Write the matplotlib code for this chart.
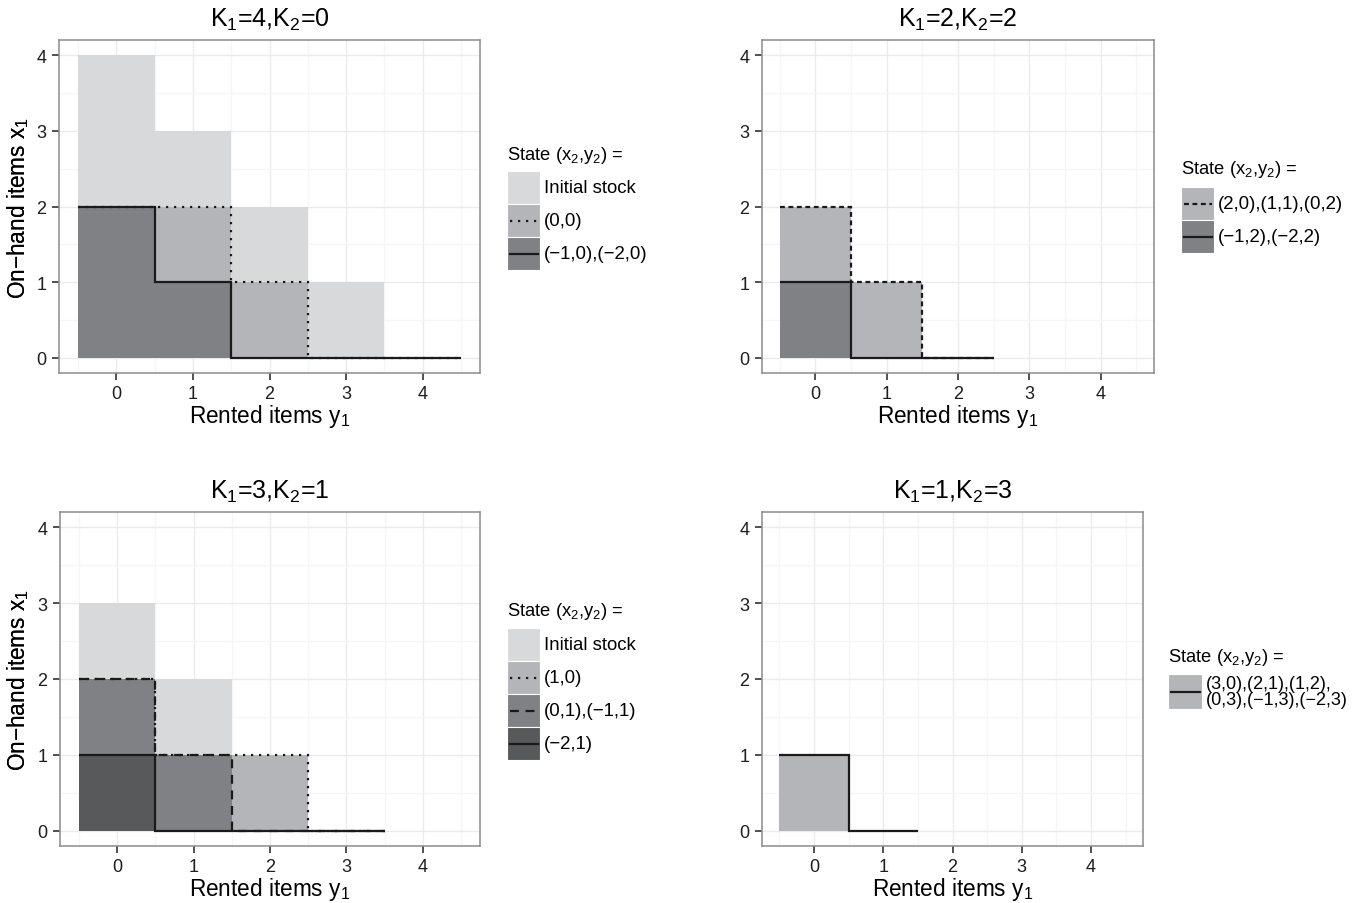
import numpy as np
import matplotlib
matplotlib.use('Agg')
import matplotlib.pyplot as plt
from matplotlib.patches import Rectangle
from matplotlib.lines import Line2D

plt.rcParams['font.family'] = ['Liberation Sans', 'DejaVu Sans']
plt.rcParams['mathtext.fontset'] = 'custom'
plt.rcParams['mathtext.rm'] = 'Liberation Sans'
plt.rcParams['mathtext.it'] = 'Liberation Sans:italic'

# greys used for the states
c_init = '#d8d9db'
c_mid = '#b4b5b8'
c_dark = '#808185'
c_darkest = '#58595b'

# rented items y1 on the x axis
y1 = np.arange(5)

# panel titles
titles = [r'$\mathregular{K_1}$=4,$\mathregular{K_2}$=0',
          r'$\mathregular{K_1}$=2,$\mathregular{K_2}$=2',
          r'$\mathregular{K_1}$=3,$\mathregular{K_2}$=1',
          r'$\mathregular{K_1}$=1,$\mathregular{K_2}$=3']

# on-hand items x1 per y1, one list per state
p1_init = [4, 3, 2, 1, 0]
p1_00 = [2, 2, 1, 0, 0]
p1_neg = [2, 1, 0, 0, 0]
p1_labels = ['Initial stock', '(0,0)', '(\u22121,0),(\u22122,0)']

p2_pos = [2, 1, 0]
p2_neg = [1, 0, 0]
p2_labels = ['(2,0),(1,1),(0,2)', '(\u22121,2),(\u22122,2)']

p3_init = [3, 2, 1, 0]
p3_10 = [2, 1, 1, 0]
p3_01 = [2, 1, 0, 0]
p3_neg = [1, 0, 0, 0]
p3_labels = ['Initial stock', '(1,0)', '(0,1),(\u22121,1)', '(\u22122,1)']

p4_all = [1, 0]
p4_labels = ['(3,0),(2,1),(1,2),\n(0,3),(\u22121,3),(\u22122,3)']

W, H = 1366, 904
fig = plt.figure(figsize=(W / 100, H / 100), dpi=100)

# panel boxes in pixels: left, top, right, bottom
boxes = [(59, 41, 480, 374), (762, 41, 1154, 374),
         (60, 513, 480, 847), (762, 513, 1143, 847)]

dotted = (0, (1, 2.6))
dash_short = (0, (2.2, 1.6))
dash_long = (0, (4, 3))

# (fill colour, values, linestyle or None) drawn in order
panels = [
    [(c_init, p1_init, None), (c_mid, p1_00, dotted), (c_dark, p1_neg, '-')],
    [(c_mid, p2_pos, dash_short), (c_dark, p2_neg, '-')],
    [(c_init, p3_init, None), (c_mid, p3_10, dotted), (c_dark, p3_01, dash_long),
     (c_darkest, p3_neg, '-')],
    [(c_mid, p4_all, '-')],
]

ylab = 'On\u2212hand items ' + r'$\mathregular{x_1}$'

for i, (l, t, r, b) in enumerate(boxes):
    ax = fig.add_axes([l / W, 1 - b / H, (r - l) / W, (b - t) / H])
    ax.set_xlim(-0.75, 4.75)
    ax.set_ylim(-0.2, 4.2)
    ax.set_xticks(y1)
    ax.set_yticks(y1)
    ax.set_xticks(np.arange(-0.5, 5, 1), minor=True)
    ax.set_yticks(np.arange(0.5, 4, 1), minor=True)
    ax.grid(True, which='major', color='#ebebeb', lw=1.0)
    ax.grid(True, which='minor', color='#f6f6f6', lw=1.0)
    ax.set_axisbelow(True)
    for s in ax.spines.values():
        s.set_color('#8c8c8c')
        s.set_linewidth(1.1)
    ax.tick_params(which='major', length=5, width=1.2, color='#333333',
                   labelsize=13, labelcolor='#1e1e1e', pad=4)
    ax.tick_params(which='minor', length=0)

    layers = panels[i]
    for col, vals, ls in layers:
        n = len(vals)
        ax.bar(y1[:n], vals, width=1.0, color=col, lw=0, zorder=2)
    # lines: solid first so dotted / dashed sit on top
    for col, vals, ls in reversed(layers):
        if ls is None:
            continue
        n = len(vals)
        ax.stairs(vals, np.arange(n + 1) - 0.5, baseline=None,
                  color='#1a1a1a', lw=1.6, linestyle=ls, zorder=3)

    ax.text(0.5, 1 + 21 / (b - t), titles[i], transform=ax.transAxes,
            ha='center', va='center', fontsize=18)
    ax.set_xlabel(r'Rented items $\mathregular{y_1}$', fontsize=16.3)
    ax.xaxis.set_label_coords(0.5, -43 / (b - t))
    ax.xaxis.label.set_va('center')
    ax.set_ylabel(ylab, fontsize=16.3)
    ax.yaxis.set_label_coords(-(l - 18) / (r - l), 0.5)
    ax.yaxis.label.set_va('center')

# overlay in pixel coordinates for the legends
ov = fig.add_axes([0, 0, 1, 1])
ov.set_xlim(0, W)
ov.set_ylim(H, 0)
ov.axis('off')

legend_title = r'State $\mathregular{(x_2{,}y_2)}$ ='


def draw_legend(x, ytitle, ykey, keyw, keyh, layers, labels, fs=13.4):
    ov.text(x, ytitle, legend_title, ha='left', va='center', fontsize=13.2)
    for k, ((col, vals, ls), lab) in enumerate(zip(layers, labels)):
        y0 = ykey + k * keyh
        ov.add_patch(Rectangle((x, y0), keyw, keyh, facecolor=col,
                               edgecolor='white', lw=0.8))
        if ls is not None:
            ov.add_line(Line2D([x + 3, x + keyw - 2], [y0 + keyh / 2] * 2,
                               color='#1a1a1a', lw=1.6, linestyle=ls))
        ov.text(x + keyw + 4, y0 + keyh / 2, lab, ha='left', va='center',
                fontsize=fs, linespacing=0.9)


draw_legend(507, 155, 172, 33, 33, panels[0], p1_labels)
draw_legend(1181, 170, 188, 33, 33, panels[1], p2_labels)
draw_legend(507, 612, 629, 33, 33, panels[2], p3_labels)
draw_legend(1168, 658, 675, 34, 35, panels[3], p4_labels, fs=13)

fig.savefig('out.png', dpi=100)
